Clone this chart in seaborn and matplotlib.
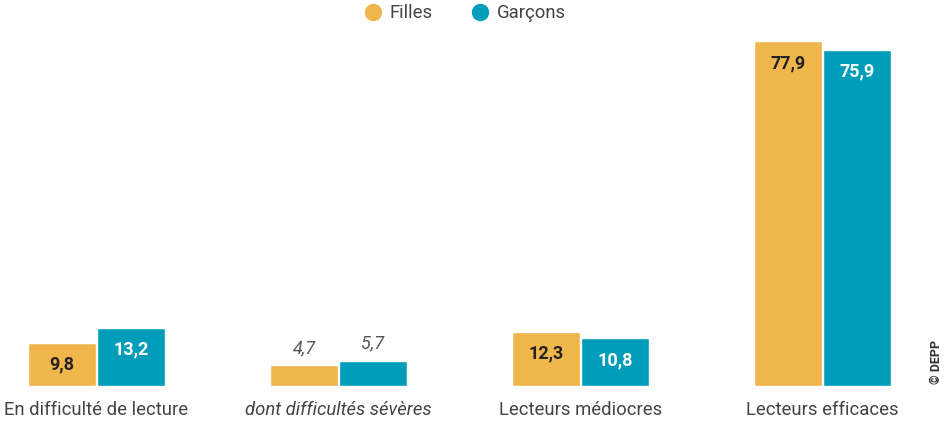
import matplotlib
matplotlib.use("Agg")
import matplotlib.pyplot as plt
import seaborn as sns
import pandas as pd
from matplotlib.lines import Line2D

categories = ["En difficulté de lecture", "dont difficultés sévères",
              "Lecteurs médiocres", "Lecteurs efficaces"]
series = ["Filles", "Garçons"]
filles = [9.8, 4.7, 12.3, 77.9]
garcons = [13.2, 5.7, 10.8, 75.9]

colors = {"Filles": "#F0B64C", "Garçons": "#009DBA"}

df = pd.DataFrame({
    "categorie": categories * 2,
    "sexe": ["Filles"] * 4 + ["Garçons"] * 4,
    "valeur": filles + garcons,
})

sns.set_theme(style="white")
plt.rcParams["font.family"] = ["Roboto", "DejaVu Sans"]

fig = plt.figure(figsize=(9.49, 4.23), dpi=100)
ax = fig.add_axes([0, 37 / 423, 1, 356 / 423])

sns.barplot(data=df, x="categorie", y="valeur", hue="sexe", order=categories,
            hue_order=series, palette=colors, width=0.57, gap=0.015,
            saturation=1, legend=False, ax=ax)

ax.set_xlim(-96.5 / 242, (949 - 96.5) / 242)
ax.set_ylim(0, 356 / 4.43)
ax.set_xlabel("")
ax.set_ylabel("")
ax.set_yticks([])
ax.set_xticks([])
for s in ax.spines.values():
    s.set_visible(False)

# category labels below the bars
for i, cat in enumerate(categories):
    ax.text(i, -5.4, cat, ha="center", va="center", fontsize=13.3,
            color="#444444", style="italic" if i == 1 else "normal")

# value labels
def fmt(v):
    return f"{v:.1f}".replace(".", ",")

for container, sex in zip(ax.containers, series):
    for i, bar in enumerate(container):
        v = bar.get_height()
        xc = bar.get_x() + bar.get_width() / 2
        if i == 1:
            ax.text(xc, v + 3.9, fmt(v), ha="center", va="center",
                    fontsize=13, style="italic", color="#555555")
        else:
            ax.text(xc, v - 5.0, fmt(v), ha="center", va="center",
                    fontsize=13, fontweight="semibold",
                    color="#222222" if sex == "Filles" else "white")

# legend at the top
handles = [Line2D([], [], marker="o", linestyle="", markersize=11.5,
                  markerfacecolor=colors[s], markeredgecolor=colors[s])
           for s in series]
fig.legend(handles, series, loc="center", bbox_to_anchor=(463 / 949, 1 - 13 / 423),
           ncol=2, frameon=False, fontsize=13.3, handletextpad=0.2,
           handlelength=1.4, columnspacing=1.9, labelcolor="#444444")

fig.text(937 / 949, 1 - 362 / 423, "© DEPP", rotation=90, ha="center",
         va="center", fontsize=9, fontweight="bold", color="#333333")

fig.savefig("out.png", dpi=100)
